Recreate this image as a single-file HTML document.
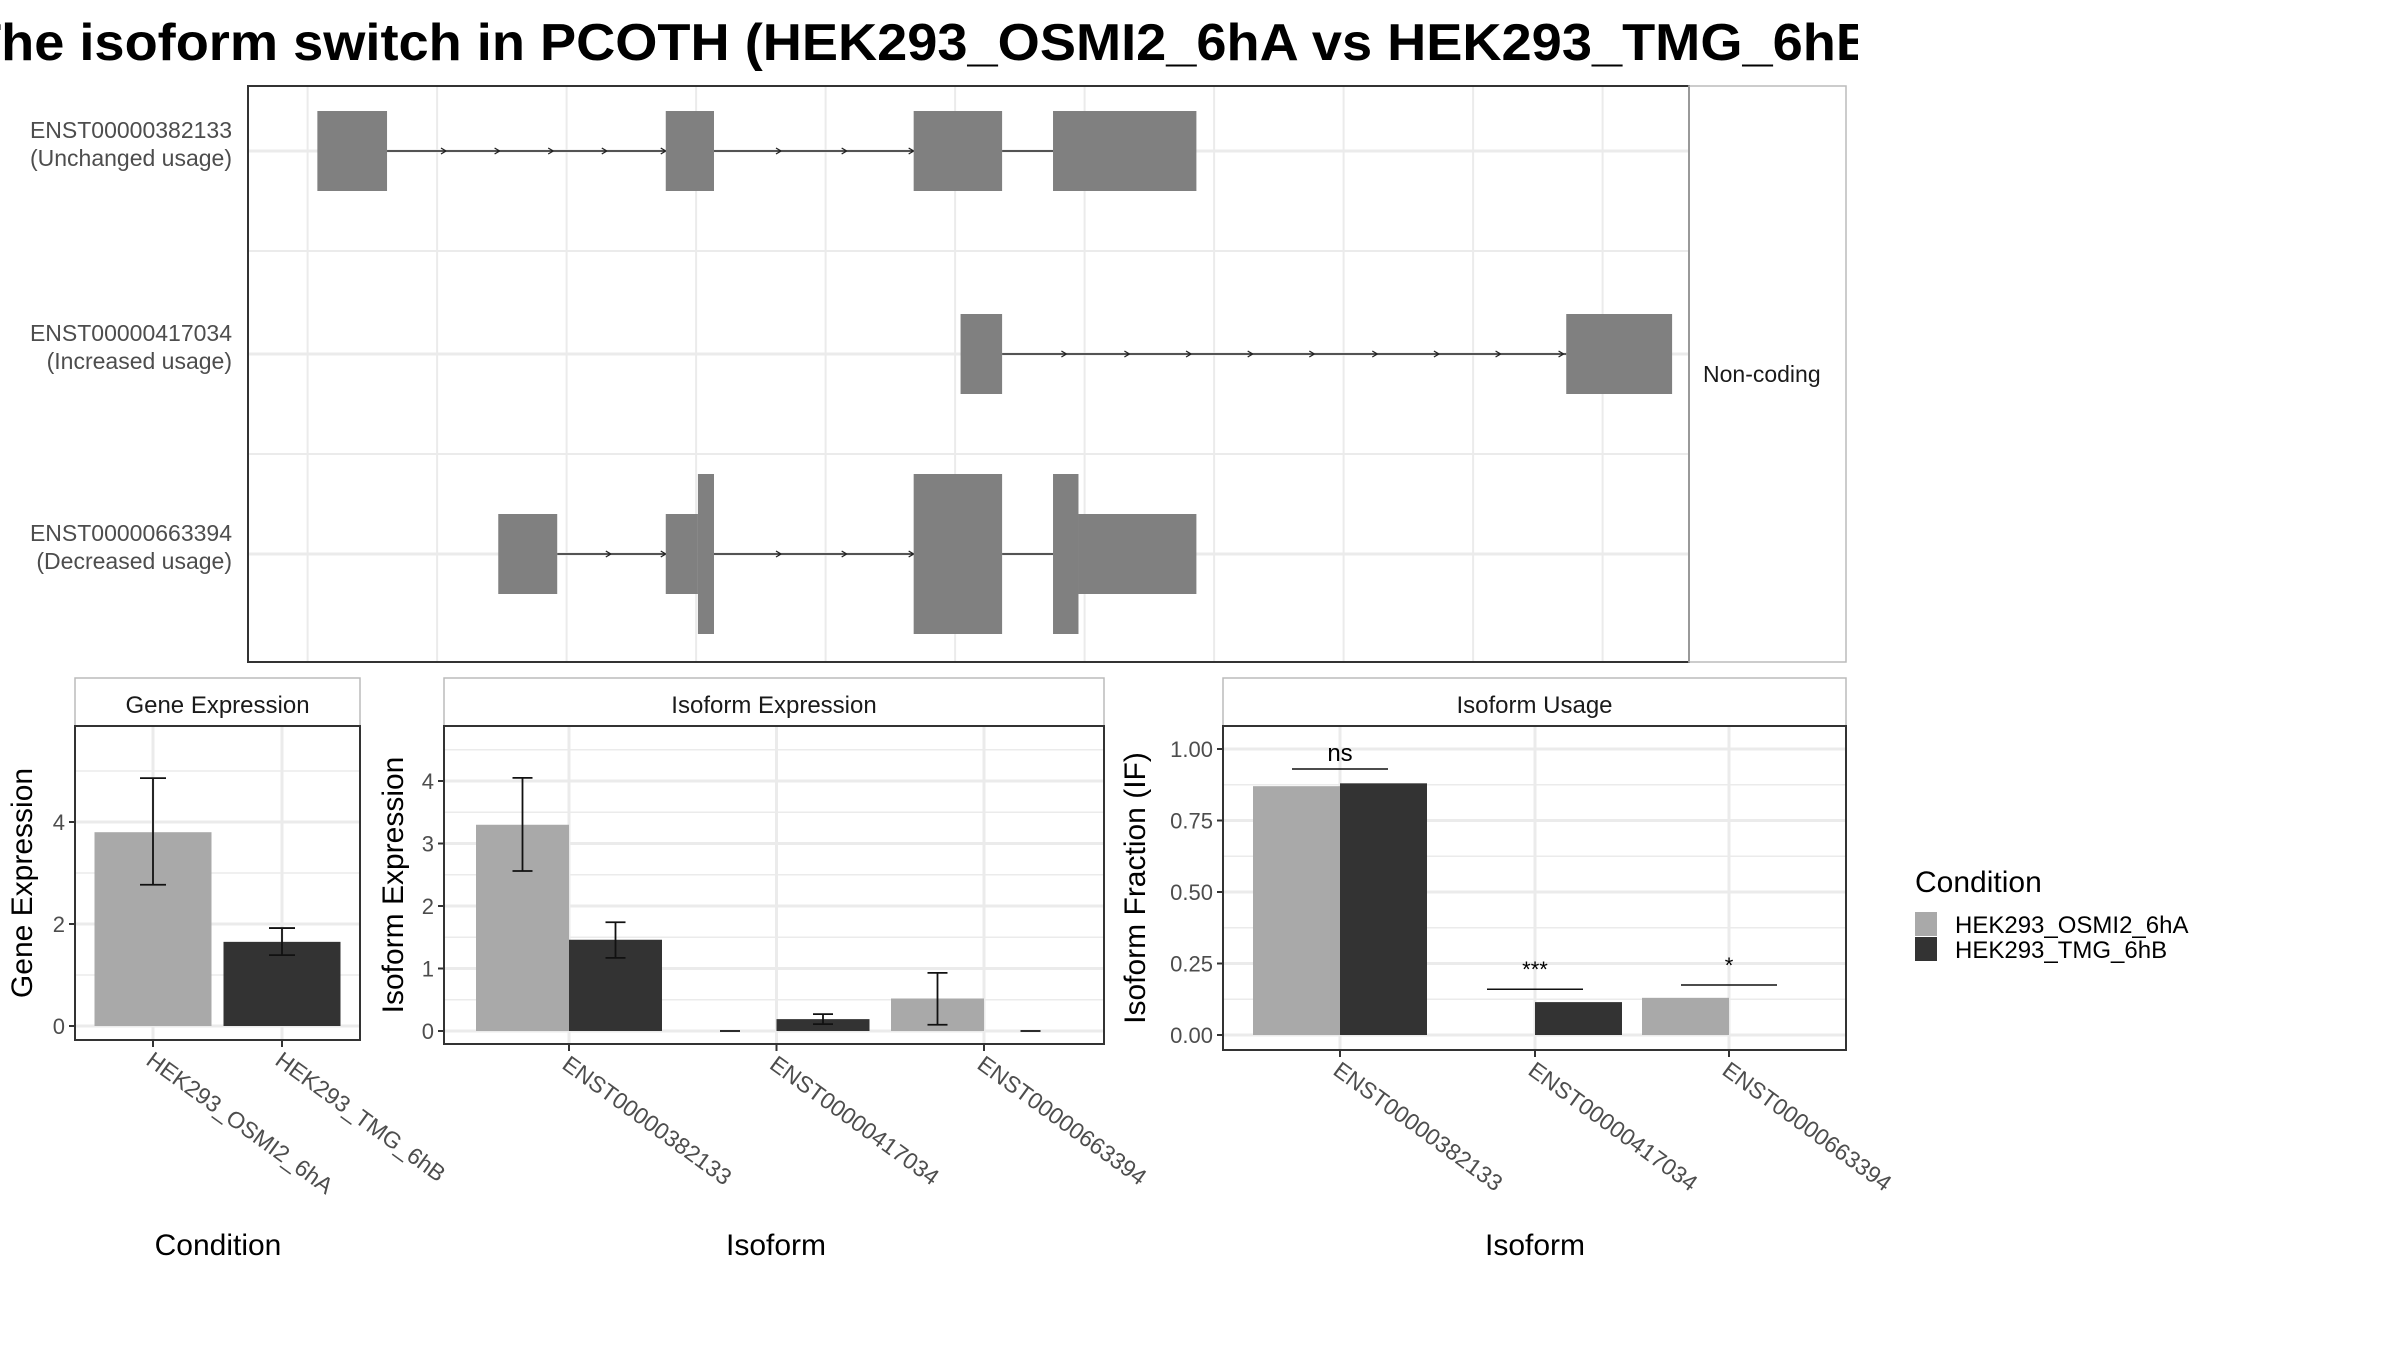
<!DOCTYPE html>
<html><head><meta charset="utf-8"><style>
html,body{margin:0;padding:0;background:#fff}
svg{display:block;font-family:"Liberation Sans",sans-serif}
</style></head><body>
<svg id="c" width="2400" height="1350" viewBox="0 0 2400 1350" xmlns="http://www.w3.org/2000/svg">
<defs><clipPath id="tc"><rect x="0" y="0" width="1858" height="80"/></clipPath></defs>
<g clip-path="url(#tc)"><text x="-32" y="60" font-size="52" font-weight="bold" fill="#000" textLength="1925" lengthAdjust="spacingAndGlyphs">The isoform switch in PCOTH (HEK293_OSMI2_6hA vs HEK293_TMG_6hB)</text></g>
<g id="top"></g>
<g id="ge"></g>
<g id="ie"></g>
<g id="iu"></g>
<g>
<text x="1915" y="892" font-size="30" fill="#000">Condition</text>
<rect x="1915" y="912" width="22" height="24" fill="#a9a9a9"/>
<rect x="1915" y="937" width="22" height="24" fill="#333"/>
<text x="1955" y="933" font-size="24" fill="#000">HEK293_OSMI2_6hA</text>
<text x="1955" y="958" font-size="24" fill="#000">HEK293_TMG_6hB</text>
</g>
</svg>
<script>
// ---- data ----
const conditions = ["HEK293_OSMI2_6hA","HEK293_TMG_6hB"];
const isoforms = ["ENST00000382133","ENST00000417034","ENST00000663394"];
const geneExpr = [3.8,1.65];
const geneLo = [2.77,1.39];
const geneHi = [4.86,1.92];
const isoExprA = [3.3,0,0.52];
const isoExprB = [1.46,0.19,0];
const isoLoA = [2.56,0,0.10];
const isoHiA = [4.05,0,0.93];
const isoLoB = [1.17,0.11,0];
const isoHiB = [1.74,0.27,0];
const usageA = [0.87,0,0.13];
const usageB = [0.88,0.115,0];
const sigLabels = ["ns","***","*"];
const sigY = [0.93,0.16,0.175];
const geneTicks = [0,2,4];
const isoTicks = [0,1,2,3,4];
const usageTicks = [0,0.25,0.5,0.75,1.0];
const usageTickLabels = ["0.00","0.25","0.50","0.75","1.00"];
// transcript structures (genomic units 0..100), [start,end,halfHeightType]
const txLabels = [["ENST00000382133","(Unchanged usage)"],["ENST00000417034","(Increased usage)"],["ENST00000663394","(Decreased usage)"]];
const txExons = [
 [[0.4,5.6,1],[26.4,30,1],[44.9,51.5,1],[55.3,66,1]],
 [[48.4,51.5,1],[93.6,101.5,1]],
 [[13.9,18.3,1],[26.4,28.8,1],[28.8,30,2],[44.9,51.5,2],[55.3,57.2,2],[57.2,66,1]]
];
const txIntrons = [
 [[5.6,26.4],[30,44.9],[51.5,55.3]],
 [[51.5,93.6]],
 [[18.3,26.4],[30,44.9],[51.5,55.3]]
];
const txArrows = [
 [10,14,18,22,26.4,35,39.9,44.9],
 [56.3,61,65.6,70.2,74.8,79.5,84.1,88.7,93.4],
 [22.3,26.4,35,39.9,44.9]
];
const NS="http://www.w3.org/2000/svg";
function mk(p,t,a,txt){const e=document.createElementNS(NS,t);for(const k in a)e.setAttribute(k,a[k]);if(txt!==undefined)e.textContent=txt;p.appendChild(e);return e;}
const GRID="#ebebeb", TICK="#4d4d4d", CA="#a9a9a9", CB="#333333";

// ---- top panel ----
(function(){
 const g=document.getElementById('top');
 const L=248,R=1689,T=86,B=662;
 const gx=v=>307.6+v*(129.5/15.4)*1.0; // not used directly
 const X=v=>312+v*(1340/100);
 const rowY=[151,354,554];
 for(let i=0;i<11;i++){const e=mk(g,'line',{x1:307.6+i*129.5,x2:307.6+i*129.5,y1:T,y2:B,stroke:GRID,'stroke-width':2});}
 [251,454].forEach(y=>{const e=mk(g,'line',{x1:L,x2:R,y1:y,y2:y,stroke:GRID,'stroke-width':2});});
 rowY.forEach(y=>{const e=mk(g,'line',{x1:L,x2:R,y1:y,y2:y,stroke:GRID,'stroke-width':3});});
 txIntrons.forEach((arr,r)=>arr.forEach(([a,b])=>{const e=mk(g,'line',{x1:X(a),x2:X(b),y1:rowY[r],y2:rowY[r],stroke:'#222','stroke-width':1.5});}));
 txArrows.forEach((arr,r)=>arr.forEach(a=>{const x=X(a),y=rowY[r];const e=mk(g,'path',{d:`M${x-5},${y-3}L${x},${y}L${x-5},${y+3}`,stroke:'#222','stroke-width':1.3,fill:'none'});}));
 txExons.forEach((arr,r)=>arr.forEach(([a,b,h])=>{const hh=h===2?80:40;const e=mk(g,'rect',{x:X(a),y:rowY[r]-hh,width:X(b)-X(a),height:2*hh,fill:'#808080'});}));
 txLabels.forEach((l,r)=>{const t=mk(g,'text',{x:232,y:rowY[r]-13,'font-size':23,fill:TICK,'text-anchor':'end'},l[0]);
  const t2=mk(g,'text',{x:232,y:rowY[r]+15,'font-size':23,fill:TICK,'text-anchor':'end'},l[1]);});
 const b=mk(g,'rect',{x:L,y:T,width:R-L,height:B-T,fill:'none',stroke:'#333','stroke-width':2});
 const s=mk(g,'rect',{x:R,y:T,width:1846-R,height:B-T,fill:'none',stroke:'#bbb','stroke-width':1.5});
 const st=mk(g,'text',{x:1703,y:382,'font-size':23,fill:'#1a1a1a'},'Non-coding');
})();

// ---- generic bar panel ----
function panel(id,o){
 const g=document.getElementById(id);
 const {L,R,T,B,y0,ppu,ymaxGrid,ticks,tickLabels,minor,cats,catX,title,ytitle,ytitleX,xtitle,xtitleX,lab}=o;
 const Y=v=>y0-v*ppu;
 const st=mk(g,'rect',{x:L,y:678,width:R-L,height:T-678,fill:'#fff',stroke:'#bbb','stroke-width':1.5});
 const stt=mk(g,'text',{x:(L+R)/2,y:713,'font-size':24,fill:'#1a1a1a','text-anchor':'middle'},title);
 minor.forEach(v=>{const e=mk(g,'line',{x1:L,x2:R,y1:Y(v),y2:Y(v),stroke:GRID,'stroke-width':1.5});});
 ticks.forEach((v,i)=>{const e=mk(g,'line',{x1:L,x2:R,y1:Y(v),y2:Y(v),stroke:GRID,'stroke-width':3});
  const tk=mk(g,'line',{x1:L-6,x2:L,y1:Y(v),y2:Y(v),stroke:'#333','stroke-width':2});
  const t=mk(g,'text',{x:L-10,y:Y(v)+8,'font-size':22,fill:TICK,'text-anchor':'end'},tickLabels[i]);});
 catX.forEach((x,i)=>{const e=mk(g,'line',{x1:x,x2:x,y1:T,y2:B,stroke:GRID,'stroke-width':3});
  const tk=mk(g,'line',{x1:x,x2:x,y1:B,y2:B+7,stroke:'#333','stroke-width':2});
  const t=mk(g,'text',{x:x,y:B+26,'font-size':23,fill:TICK,transform:`rotate(36 ${x} ${B+12})`},cats[i]);});
 const yt=mk(g,'text',{x:ytitleX,y:(T+B)/2,'font-size':30,fill:'#000','text-anchor':'middle',transform:`rotate(-90 ${ytitleX} ${(T+B)/2})`},ytitle);
 const xt=mk(g,'text',{x:xtitleX,y:1255,'font-size':30,fill:'#000','text-anchor':'middle'},xtitle);
 return {g,Y};
}
function bar(g,x,w,v,Y,c,name){const y=Y(v);const e=mk(g,'rect',{x:x,y:Math.min(y,Y(0)),width:w,height:Math.abs(Y(0)-y),fill:c});}
function err(g,cx,hw,lo,hi,Y){const p=`M${cx-hw},${Y(hi)}H${cx+hw}M${cx},${Y(hi)}V${Y(lo)}M${cx-hw},${Y(lo)}H${cx+hw}`;const e=mk(g,'path',{d:p,stroke:'#111','stroke-width':1.8,fill:'none'});}

// Gene expression
(function(){
 const o={L:75,R:360,T:726,B:1040,y0:1026,ppu:51,ticks:geneTicks,tickLabels:geneTicks.map(String),minor:[1,3,5],cats:conditions,catX:[153,282],title:'Gene Expression',ytitle:'Gene Expression',ytitleX:32,xtitle:'Condition',xtitleX:218};
 const {g,Y}=panel('ge',o);
 const cols=[CA,CB];
 geneExpr.forEach((v,i)=>{bar(g,o.catX[i]-58.5,117,v,Y,cols[i],'bar-gene-'+i);err(g,o.catX[i],13,geneLo[i],geneHi[i],Y);});
 const b=mk(g,'rect',{x:o.L,y:o.T,width:o.R-o.L,height:o.B-o.T,fill:'none',stroke:'#333','stroke-width':2});
})();
// Isoform expression
(function(){
 const o={L:444,R:1104,T:726,B:1044,y0:1031,ppu:62.5,ticks:isoTicks,tickLabels:isoTicks.map(String),minor:[0.5,1.5,2.5,3.5,4.5],cats:isoforms,catX:[569,776.5,984],title:'Isoform Expression',ytitle:'Isoform Expression',ytitleX:403,xtitle:'Isoform',xtitleX:776};
 const {g,Y}=panel('ie',o);
 o.catX.forEach((x,i)=>{
  bar(g,x-93,93,isoExprA[i],Y,CA,'bar-iso-expr-a');bar(g,x,93,isoExprB[i],Y,CB,'bar-iso-expr-b');
  err(g,x-46.5,10,isoLoA[i],isoHiA[i],Y);err(g,x+46.5,10,isoLoB[i],isoHiB[i],Y);
 });
 const b=mk(g,'rect',{x:o.L,y:o.T,width:o.R-o.L,height:o.B-o.T,fill:'none',stroke:'#333','stroke-width':2});
})();
// Isoform usage
(function(){
 const o={L:1223,R:1846,T:726,B:1050,y0:1035,ppu:286,ticks:usageTicks,tickLabels:usageTickLabels,minor:[0.125,0.375,0.625,0.875],cats:isoforms,catX:[1340,1535,1729],title:'Isoform Usage',ytitle:'Isoform Fraction (IF)',ytitleX:1145,xtitle:'Isoform',xtitleX:1535};
 const {g,Y}=panel('iu',o);
 o.catX.forEach((x,i)=>{
  bar(g,x-87,87,usageA[i],Y,CA,'bar-usage-a');bar(g,x,87,usageB[i],Y,CB,'bar-usage-b');
  const l=mk(g,'line',{x1:x-48,x2:x+48,y1:Y(sigY[i]),y2:Y(sigY[i]),stroke:'#111','stroke-width':1.5});
  const t=mk(g,'text',{x:x,y:Y(sigY[i])-(i===0?8:12),'font-size':i===0?24:22,fill:'#000','text-anchor':'middle'},sigLabels[i]);
 });
 const b=mk(g,'rect',{x:o.L,y:o.T,width:o.R-o.L,height:o.B-o.T,fill:'none',stroke:'#333','stroke-width':2});
})();
</script>
</body></html>
